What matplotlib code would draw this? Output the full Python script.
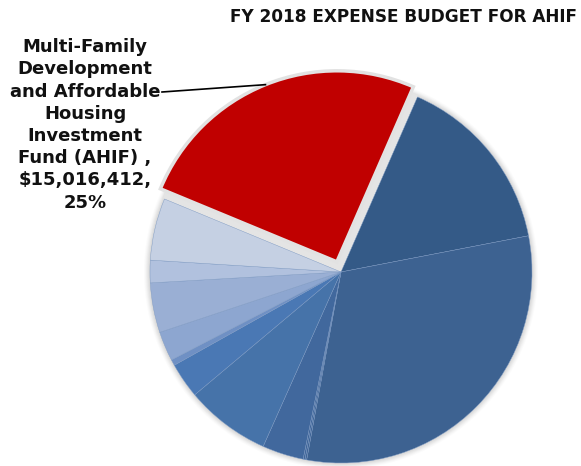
import matplotlib
matplotlib.use("Agg")
import matplotlib.pyplot as plt
from matplotlib.patches import Circle, Wedge
import numpy as np

# FY 2018 expense budget shares (percent of total), clockwise from the top-right slice
shares = [15.4, 30.9, 0.15, 0.15, 3.5, 7.2, 3.0, 0.5, 2.5, 4.2, 1.9, 5.25, 25.3]
colors = ["#345a87", "#3d6291", "#3f6597", "#40669a", "#41689d", "#4673a9",
          "#4a78b4", "#6f90c4", "#8da6d0", "#9aafd4", "#b1c1de", "#c5d0e3",
          "#c00000"]
ahif_name = "Multi-Family\nDevelopment\nand Affordable\nHousing\nInvestment\nFund (AHIF) ,"
ahif_budget = 15016412
title = "FY 2018 EXPENSE BUDGET FOR AHIF"

W, H = 581, 466
fig = plt.figure(figsize=(W / 100, H / 100), dpi=100)

# axes in pixel-like units so the pie sits where it should
cx, cy, half = 341, 272, 200
ax = fig.add_axes([(cx - half) / W, (H - cy - half) / H, 2 * half / W, 2 * half / H])

R = 191
start = 66.4
red_idx = len(shares) - 1
explode = [0] * len(shares)
explode[red_idx] = 11

# soft outer shadow
for k, a in zip(range(6, 0, -1), [0.03, 0.04, 0.05, 0.06, 0.07, 0.08]):
    ax.add_patch(Circle((0, 0), R + k, color="#808080", alpha=a, lw=0, zorder=0))

wedges, _ = ax.pie(shares, colors=colors, radius=R, startangle=start,
                   counterclock=False, explode=explode,
                   wedgeprops=dict(linewidth=0.3, edgecolor="#7d9ac4"))
for w in wedges:
    w.set_zorder(2)

# grey shadow in the slot left by the exploded slice
red = wedges[red_idx]
ax.add_patch(Wedge((0, 0), R + 2, red.theta1, red.theta2, color="#e4e4e4",
                   lw=0, zorder=1.5))
red.set_edgecolor("#e2e2e2")
red.set_linewidth(2.5)
red.set_zorder(3)

# leader from the label to the middle of the red slice's arc
mid = np.deg2rad(0.5 * (red.theta1 + red.theta2))
rcx, rcy = red.center
tip = (rcx + R * np.cos(mid), rcy + R * np.sin(mid))
ax.plot([162 - cx, tip[0]], [cy - 92, tip[1]], color="black", lw=1.2, zorder=4)

pct = shares[red_idx] / sum(shares) * 100
label = f"{ahif_name}\n\\${ahif_budget:,},\n{pct:.0f}%"
ax.text(85 - cx, cy - 125, label, ha="center", va="center", fontsize=13,
        fontweight="bold", linespacing=1.3, color="#111111", zorder=5,
        clip_on=False)

fig.text(403 / W, 1 - 17 / H, title, ha="center", va="center", fontsize=12.2,
         fontweight="bold", color="#111111")

# pie() resets the limits, so fix them afterwards
ax.set_xlim(-half, half)
ax.set_ylim(-half, half)
ax.set_aspect("equal")
ax.axis("off")

fig.savefig("out.png", dpi=100)
